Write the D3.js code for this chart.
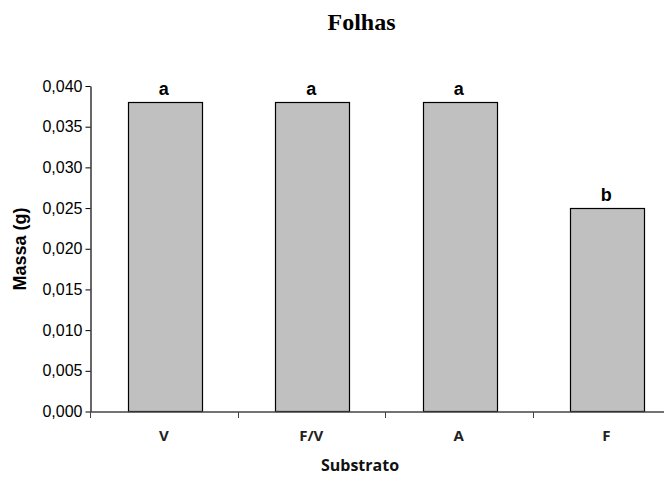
<!DOCTYPE html>
<html>
<head>
<meta charset="utf-8">
<script src="https://cdn.jsdelivr.net/npm/d3@7"></script>
<style>
  body { margin: 0; background: #fff; overflow: hidden; }
  svg { display: block; }
</style>
</head>
<body>
<svg id="chart" width="664" height="477"></svg>
<script>
// Leaf mass by substrate, with significance letters
const categories = ["V", "F/V", "A", "F"];
const values = [0.038, 0.038, 0.038, 0.025];
const letters = ["a", "a", "a", "b"];
const yTicks = [0, 0.005, 0.010, 0.015, 0.020, 0.025, 0.030, 0.035, 0.040];

const svg = d3.select("#chart");
// plot area runs slightly past the right edge of the canvas
const x0 = 91, x1 = 681;
const yTop = 86, yBot = 411.5;

const x = d3.scaleBand().domain(categories).range([x0, x1]).paddingInner(0.5).paddingOuter(0.25);
const xCat = d3.scaleBand().domain(categories).range([x0, x1]);
const y = d3.scaleLinear().domain([0, 0.04]).range([yBot, yTop]);

// Title
svg.append("text")
  .attr("x", 361.5).attr("y", 30)
  .attr("text-anchor", "middle")
  .style("font-family", "'Liberation Serif', 'Times New Roman', serif")
  .style("font-weight", "bold").style("font-size", "24px")
  .text("Folhas");

// Bars
svg.selectAll("rect.bar").data(values).join("rect")
  .attr("class", "bar")
  .attr("x", (d, i) => Math.round(x(categories[i])) + 0.5)
  .attr("y", d => Math.round(y(d)) + 0.5)
  .attr("width", Math.round(x.bandwidth()))
  .attr("height", d => yBot - Math.round(y(d)) - 0.5)
  .attr("fill", "#c0c0c0")
  .attr("stroke", "#000").attr("stroke-width", 1.2);

// Significance letters
svg.selectAll("text.letter").data(values).join("text")
  .attr("class", "letter")
  .attr("x", (d, i) => x(categories[i]) + x.bandwidth() / 2 - 1)
  .attr("y", d => y(d) - 7)
  .attr("text-anchor", "middle")
  .style("font-family", "'Liberation Sans', Arial, sans-serif")
  .style("font-weight", "bold").style("font-size", "18px")
  .text((d, i) => letters[i]);

// Y axis
const fmt = v => v.toFixed(3).replace(".", ",");
const yAxis = svg.append("g")
  .attr("transform", `translate(${x0 - 0.5},0)`)
  .call(d3.axisLeft(y).tickValues(yTicks).tickFormat(fmt).tickSize(5).tickPadding(3).tickSizeOuter(0));
yAxis.select(".domain").attr("stroke", "#000").attr("stroke-width", 1.2);
yAxis.selectAll(".tick line").attr("stroke", "#000");
yAxis.selectAll(".tick text")
  .style("font-family", "'Liberation Sans', Arial, sans-serif")
  .style("font-size", "16px").attr("fill", "#000");

// X axis: ticks at category boundaries
const xAxisG = svg.append("g").attr("transform", `translate(0,${yBot + 0.5})`);
xAxisG.append("line")
  .attr("x1", x0 - 1).attr("x2", x1)
  .attr("stroke", "#444").attr("stroke-width", 1.5);
const boundaries = categories.map(c => xCat(c)).concat([x1]);
xAxisG.selectAll("line.tick").data(boundaries).join("line")
  .attr("class", "tick")
  .attr("x1", d => Math.round(d) - 0.5).attr("x2", d => Math.round(d) - 0.5)
  .attr("y1", 0).attr("y2", 6)
  .attr("stroke", "#444");
xAxisG.selectAll("text.cat").data(categories).join("text")
  .attr("class", "cat")
  .attr("x", d => xCat(d) + xCat.bandwidth() / 2 - 1)
  .attr("y", 29)
  .attr("text-anchor", "middle")
  .style("font-family", "'Open Sans', 'Liberation Sans', sans-serif")
  .style("font-weight", "bold").style("font-size", "15px")
  .attr("fill", "#222")
  .text(d => d);

// Axis titles
svg.append("text")
  .attr("x", 360).attr("y", 471)
  .attr("text-anchor", "middle")
  .style("font-family", "'Open Sans', 'Liberation Sans', sans-serif")
  .style("font-weight", "bold").style("font-size", "16px")
  .attr("fill", "#111")
  .text("Substrato");

svg.append("text")
  .attr("transform", `translate(26,249) rotate(-90)`)
  .attr("text-anchor", "middle")
  .style("font-family", "'Liberation Sans', Arial, sans-serif")
  .style("font-weight", "bold").style("font-size", "18px")
  .text("Massa (g)");
</script>
</body>
</html>
